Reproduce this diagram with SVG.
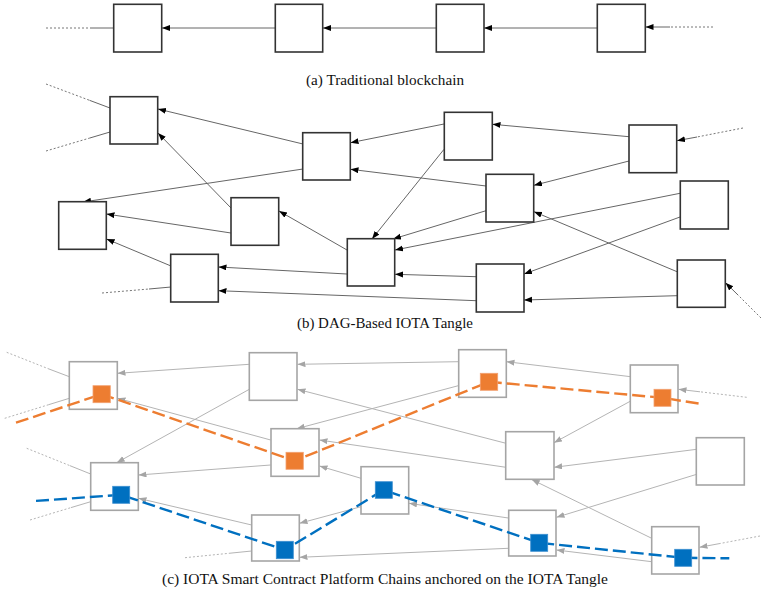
<svg xmlns="http://www.w3.org/2000/svg" width="761" height="591" viewBox="0 0 761 591">
<style>
.bk{fill:#fff;stroke:#333;stroke-width:1.6}
.gb{fill:#fff;stroke:#a5a5a5;stroke-width:1.6}
.e{fill:none;stroke:#666;stroke-width:1}
.ed{fill:none;stroke:#777;stroke-width:1;stroke-dasharray:2 2}
.g{fill:none;stroke:#b4b4b4;stroke-width:1}
.gd{fill:none;stroke:#b4b4b4;stroke-width:1;stroke-dasharray:2 2}
.ea{marker-end:url(#ab)}
.ga{marker-end:url(#ag)}
.cap{font-family:"Liberation Serif","DejaVu Serif",serif;font-size:14.5px;fill:#111}
.or{fill:#ED7D31;stroke:#f3a070;stroke-width:0.8}
.bl{fill:#0070C0;stroke:#3d8fd0;stroke-width:0.8}
.op{fill:none;stroke:#ED7D31;stroke-width:2.4;stroke-dasharray:13 5}
.bp{fill:none;stroke:#0070C0;stroke-width:2.4;stroke-dasharray:13 5}
</style>
<defs>
<marker id="ab" markerUnits="userSpaceOnUse" markerWidth="9" markerHeight="7" refX="8" refY="3" orient="auto"><path d="M0,0 L8,3 L0,6 z" fill="#000"/></marker>
<marker id="ag" markerUnits="userSpaceOnUse" markerWidth="9" markerHeight="7" refX="8" refY="3" orient="auto"><path d="M0,0 L8,3 L0,6 z" fill="#a5a5a5"/></marker>
</defs>
<rect width="761" height="591" fill="#fff"/>

<g id="connectors">
<!-- (a) -->
<path class="ed" d="M46,28 L90,28"/>
<path class="e" d="M90,28 L113,28"/>
<path class="e ea" d="M275,28 L162,28"/>
<path class="e ea" d="M436,28 L323,28"/>
<path class="e ea" d="M597,28 L484,28"/>
<path class="ed" d="M713,27 L670,27"/>
<path class="e ea" d="M670,27 L645.5,27"/>
<!-- (b) -->
<path class="ed" d="M46,84 L89.5,100.3"/>
<path class="e" d="M89.5,100.3 L110,108"/>
<path class="ed" d="M46,151 L89.5,138.1"/>
<path class="e" d="M89.5,138.1 L110,132"/>
<path class="e ea" d="M303,144 L158,109"/>
<path class="e ea" d="M303,169 L83,202"/>
<path class="e ea" d="M231,208 L158,133"/>
<path class="e ea" d="M231,233 L106.5,214"/>
<path class="e ea" d="M171,266 L106.5,239"/>
<path class="ed" d="M102,293 L149,289"/>
<path class="e" d="M149,289 L171,287"/>
<path class="e ea" d="M347,250 L279,211"/>
<path class="e ea" d="M347,274 L218.5,267"/>
<path class="e ea" d="M476,300.7 L218.5,290.7"/>
<path class="e ea" d="M444,124 L350.5,142.7"/>
<path class="e ea" d="M486,186 L350.5,169.3"/>
<path class="e ea" d="M444,149.3 L372,239"/>
<path class="e ea" d="M486,210.7 L393,239"/>
<path class="e ea" d="M680,193.3 L395,250"/>
<path class="e ea" d="M629,136.7 L492.5,124.3"/>
<path class="e ea" d="M629,161 L534,185.3"/>
<path class="ed" d="M743,128 L697,137"/>
<path class="e ea" d="M697,137 L677,140.7"/>
<path class="e ea" d="M677,271.7 L534,211.7"/>
<path class="e ea" d="M680,217 L524,274"/>
<path class="e ea" d="M677,295.7 L524,300"/>
<path class="e ea" d="M476,276.7 L395,274.3"/>
<path class="ed" d="M761,318 L738,295"/>
<path class="e ea" d="M738,295 L725.5,282.7"/>
<!-- (c) -->
<path class="gd" d="M6.7,352.3 L49,369"/>
<path class="g" d="M49,369 L69.3,376.7"/>
<path class="gd" d="M4.7,418.3 L48.6,404.7"/>
<path class="g" d="M48.6,404.7 L69.3,398.3"/>
<path class="g ga" d="M249.3,364.3 L117.5,373.3"/>
<path class="g ga" d="M270.7,440 L117.5,398.3"/>
<path class="g ga" d="M249.3,389.3 L116.7,462.7"/>
<path class="g ga" d="M270.7,465 L138.5,475"/>
<path class="gd" d="M26.7,448.3 L70,465.7"/>
<path class="g" d="M70,465.7 L90.7,474"/>
<path class="gd" d="M30,520 L71,507.6"/>
<path class="g" d="M71,507.6 L90.7,501.7"/>
<path class="g ga" d="M251.7,525 L138.5,498.3"/>
<path class="gd" d="M185,557.7 L230,553.2"/>
<path class="g" d="M230,553.2 L251.7,551"/>
<path class="g ga" d="M458.3,361.7 L297.5,364.3"/>
<path class="g ga" d="M506,443.3 L297.5,389.3"/>
<path class="g ga" d="M458.3,385.7 L296.7,428.7"/>
<path class="g ga" d="M506,467.3 L319.5,440"/>
<path class="g ga" d="M361,478.3 L319.5,466"/>
<path class="g ga" d="M508.3,518 L409,503.3"/>
<path class="g ga" d="M361,506.7 L299.5,523.3"/>
<path class="g ga" d="M508.3,548.3 L299.5,557.3"/>
<path class="g ga" d="M630.7,376.7 L506.5,361.7"/>
<path class="gd" d="M746.7,397.3 L700,391.8"/>
<path class="g ga" d="M700,391.8 L678.5,389.3"/>
<path class="g ga" d="M630.7,401 L554,442.7"/>
<path class="g ga" d="M696.7,449.3 L554.2,467.3"/>
<path class="g ga" d="M651.7,538.3 L531.7,479.5"/>
<path class="g ga" d="M696.7,474.3 L556.5,517.3"/>
<path class="g ga" d="M651.7,561.7 L556.5,550"/>
<path class="gd" d="M760,536 L719,543.7"/>
<path class="g ga" d="M719,543.7 L699.5,547.3"/>
</g>

<g id="nodes-a">
<g id="a1"><rect class="bk" x="113.7" y="4.3" width="48" height="47.7"/></g>
<g id="a2"><rect class="bk" x="275.3" y="4.3" width="47.4" height="47.7"/></g>
<g id="a3"><rect class="bk" x="436.3" y="4.3" width="47.7" height="47.7"/></g>
<g id="a4"><rect class="bk" x="597.3" y="4.3" width="48" height="47.7"/></g>
</g>

<g id="nodes-b">
<g id="b1"><rect class="bk" x="110" y="96.7" width="47.7" height="47.3"/></g>
<g id="b2"><rect class="bk" x="302.7" y="132.7" width="47.6" height="47.3"/></g>
<g id="b3"><rect class="bk" x="58.7" y="201.7" width="47.6" height="47.6"/></g>
<g id="b4"><rect class="bk" x="231" y="197.7" width="47.7" height="47.6"/></g>
<g id="b5"><rect class="bk" x="347.3" y="238.7" width="47.4" height="47.3"/></g>
<g id="b6"><rect class="bk" x="170.7" y="254.3" width="47.6" height="47.7"/></g>
<g id="b7"><rect class="bk" x="444.3" y="112.3" width="48" height="47.7"/></g>
<g id="b8"><rect class="bk" x="629" y="125" width="47.7" height="47.7"/></g>
<g id="b9"><rect class="bk" x="486" y="174.3" width="47.7" height="47.7"/></g>
<g id="b10"><rect class="bk" x="680.3" y="181" width="48" height="48"/></g>
<g id="b11"><rect class="bk" x="476.3" y="264" width="47.7" height="48"/></g>
<g id="b12"><rect class="bk" x="677.3" y="260" width="48" height="47.3"/></g>
</g>

<g id="nodes-c">
<g id="c1"><rect class="gb" x="69.3" y="361.7" width="48" height="47.6"/></g>
<g id="c2"><rect class="gb" x="249.3" y="352.7" width="47.7" height="47.6"/></g>
<g id="c3"><rect class="gb" x="271" y="428.7" width="48" height="47.6"/></g>
<g id="c4"><rect class="gb" x="90.7" y="462.7" width="47.6" height="47.6"/></g>
<g id="c5"><rect class="gb" x="361" y="466.7" width="47.7" height="47.3"/></g>
<g id="c6"><rect class="gb" x="251.7" y="515" width="47.6" height="46"/></g>
<g id="c7"><rect class="gb" x="458.7" y="349.7" width="47.6" height="47.6"/></g>
<g id="c8"><rect class="gb" x="630.3" y="365" width="47.7" height="47.7"/></g>
<g id="c9"><rect class="gb" x="505.7" y="431.7" width="48.3" height="47.6"/></g>
<g id="c10"><rect class="gb" x="696.3" y="437.7" width="48" height="47.3"/></g>
<g id="c11"><rect class="gb" x="508.7" y="510.3" width="47.3" height="45.7"/></g>
<g id="c12"><rect class="gb" x="651.7" y="526.7" width="47.3" height="47.3"/></g>
</g>

<g id="chains">
<path class="op" d="M16,422.7 L101.7,394.2 L294.7,460.8 L489,381.8 L662.5,397.8 L701.7,404"/>
<path class="bp" stroke-dasharray="1.5 6 13 5 13 5 13 5 13 5" d="M36,500.9 L121.2,494.8 L284.8,550 L383.5,490 L539.2,542.8 L683.2,557.8 L729.3,558.3"/>
<g id="o1"><rect class="or" x="93" y="385.7" width="17.3" height="17"/></g>
<g id="o2"><rect class="or" x="286" y="452.3" width="17.3" height="17"/></g>
<g id="o3"><rect class="or" x="480.3" y="373.3" width="17.4" height="17"/></g>
<g id="o4"><rect class="or" x="654" y="389.3" width="17" height="17"/></g>
<g id="l1"><rect class="bl" x="112.7" y="486.3" width="17" height="17"/></g>
<g id="l2"><rect class="bl" x="276.3" y="541.3" width="17" height="17.4"/></g>
<g id="l3"><rect class="bl" x="375.3" y="481.7" width="17" height="16.6"/></g>
<g id="l4"><rect class="bl" x="530.7" y="534.3" width="17" height="17"/></g>
<g id="l5"><rect class="bl" x="674.7" y="549.3" width="17" height="17"/></g>
</g>

<g id="captions">
<text class="cap" x="306" y="84.5" textLength="158" lengthAdjust="spacingAndGlyphs">(a) Traditional blockchain</text>
<text class="cap" x="297" y="327.5" textLength="176" lengthAdjust="spacingAndGlyphs">(b) DAG-Based IOTA Tangle</text>
<text class="cap" x="162" y="584" textLength="446" lengthAdjust="spacingAndGlyphs">(c) IOTA Smart Contract Platform Chains anchored on the IOTA Tangle</text>
</g>
</svg>
